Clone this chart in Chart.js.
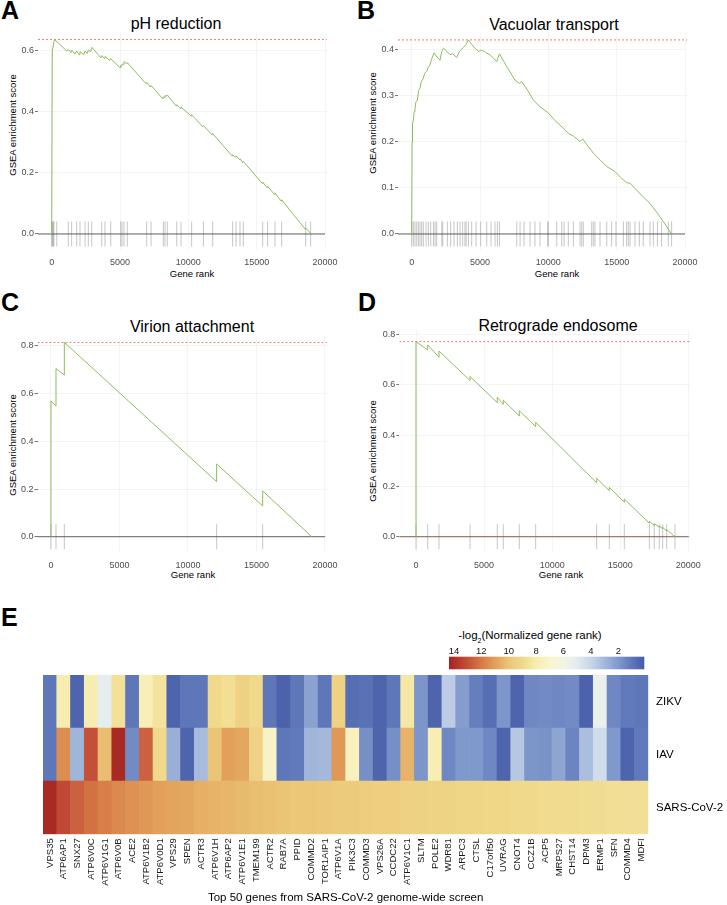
<!DOCTYPE html>
<html>
<head>
<meta charset="utf-8">
<script src="https://cdn.jsdelivr.net/npm/chart.js@4.4.1/dist/chart.umd.min.js"></script>
<style>
  body { margin: 0; background: #fff; }
  #fig { position: relative; width: 727px; height: 905px; overflow: hidden;
         font-family: 'Liberation Sans', Arial, Helvetica, sans-serif; color: #000; }
  canvas { position: absolute; }
  .lab { position: absolute; white-space: nowrap; line-height: 1; transform: translate(-50%, -50%); }
  .letter { position: absolute; font-weight: bold; font-size: 25px; line-height: 24px; }
  .ptitle { font-size: 16px; }
  .xtitle { font-size: 9.5px; }
  .ytitle { font-size: 9.5px; transform: translate(-50%, -50%) rotate(-90deg); }
  .cbtitle { font-size: 11.5px; }
</style>
</head>
<body>
<div id="fig">
  <div class="letter" style="left:1px;top:-2px">A</div>
  <div class="letter" style="left:357px;top:-2px">B</div>
  <div class="letter" style="left:1px;top:290px">C</div>
  <div class="letter" style="left:358px;top:290px">D</div>
  <div class="letter" style="left:1px;top:605px">E</div>

  <div class="lab ptitle" style="left:176px;top:24px">pH reduction</div>
  <div class="lab ptitle" style="left:554px;top:25px">Vacuolar transport</div>
  <div class="lab ptitle" style="left:192px;top:327px">Virion attachment</div>
  <div class="lab ptitle" style="left:558px;top:326px">Retrograde endosome</div>

  <div class="lab ytitle" style="left:13px;top:125px">GSEA enrichment score</div>
  <div class="lab ytitle" style="left:373px;top:123px">GSEA enrichment score</div>
  <div class="lab ytitle" style="left:13px;top:445px">GSEA enrichment score</div>
  <div class="lab ytitle" style="left:373px;top:451px">GSEA enrichment score</div>

  <div class="lab xtitle" style="left:192px;top:274px">Gene rank</div>
  <div class="lab xtitle" style="left:557px;top:274px">Gene rank</div>
  <div class="lab xtitle" style="left:193px;top:575px">Gene rank</div>
  <div class="lab xtitle" style="left:561px;top:575px">Gene rank</div>

  <div class="lab cbtitle" style="left:530px;top:637px">-log<sub style="font-size:7px">2</sub>(Normalized gene rank)</div>

  <canvas id="cA" width="360" height="290" style="left:0;top:0"></canvas>
  <canvas id="cB" width="367" height="290" style="left:360px;top:0"></canvas>
  <canvas id="cC" width="360" height="300" style="left:0;top:290px"></canvas>
  <canvas id="cD" width="367" height="300" style="left:360px;top:290px"></canvas>
  <canvas id="cBar" width="287" height="50" style="left:440px;top:625px"></canvas>
  <canvas id="cHeat" width="727" height="305" style="left:0;top:600px"></canvas>
</div>

<script>
// ---- GSEA running scores (gene rank / enrichment score) and hit positions ----
const xTicks = [0, 5000, 10000, 15000, 20000];

// A: pH reduction
const aRank = [0, 40, 200, 1100, 1215, 1400, 1460, 1700, 1830, 2000, 2070, 2350, 2440, 2600, 2680, 2850, 2930,
  3600, 3660, 3850, 3900, 4250, 4320, 5000, 5050, 5100, 5145, 5250, 5290, 5500, 5530, 6900, 6950, 7220, 7270,
  8130, 8170, 8250, 8290, 8420, 8460, 9100, 9150, 9420, 9460, 10200, 10240, 11050, 11100, 11740, 11780,
  13200, 13240, 13450, 13490, 13740, 13780, 13980, 14020, 15400, 15440, 15760, 15800, 16300, 16340,
  16790, 16830, 18550, 18590, 18950, 19000];
const aScore = [0, 0.600, 0.638, 0.600, 0.605, 0.595, 0.603, 0.590, 0.600, 0.588, 0.598, 0.588, 0.600, 0.592, 0.603, 0.597, 0.612,
  0.578, 0.585, 0.576, 0.582, 0.569, 0.575, 0.545, 0.552, 0.548, 0.557, 0.556, 0.565, 0.558, 0.562, 0.493, 0.497, 0.482, 0.487,
  0.443, 0.450, 0.447, 0.454, 0.452, 0.456, 0.420, 0.424, 0.412, 0.416, 0.387, 0.391, 0.352, 0.356, 0.325, 0.329,
  0.256, 0.260, 0.252, 0.256, 0.244, 0.247, 0.234, 0.238, 0.166, 0.170, 0.152, 0.156, 0.130, 0.134,
  0.108, 0.112, 0.016, 0.020, 0.002, 0];
const aHits = [0, 40, 80, 120, 160, 370, 1215, 1460, 1830, 2070, 2440, 2680, 2930, 3660, 3900, 4320, 5050, 5145,
  5290, 5530, 6950, 7270, 8170, 8290, 8460, 9150, 9460, 10240, 11100, 11780, 13240, 13490, 13780, 14020,
  15440, 15800, 16340, 16830, 18590, 18950];

// B: Vacuolar transport
const bRank = [0, 30, 60, 120, 180, 240, 300, 420, 500, 610, 700, 850, 950, 1100, 1200, 1340, 1450, 1630, 1800,
  2070, 2200, 2320, 2550, 2800, 3000, 3290, 3500, 3780, 3980, 4150, 4400, 4630, 4900, 5120, 5400, 5730, 6000,
  6220, 6420, 7000, 7560, 7690, 7880, 8050, 8500, 8900, 9400, 10000, 10500, 11100, 11460, 11830, 12320, 12510,
  12900, 13290, 13800, 14270, 14880, 15300, 15730, 15980, 16460, 16950, 17440, 17980, 18410, 19020];
const bScore = [0, 0.200, 0.240, 0.245, 0.265, 0.270, 0.285, 0.290, 0.310, 0.316, 0.330, 0.337, 0.348, 0.352, 0.360,
  0.366, 0.378, 0.392, 0.385, 0.376, 0.395, 0.402, 0.396, 0.388, 0.390, 0.382, 0.395, 0.404, 0.410, 0.420, 0.410,
  0.402, 0.395, 0.398, 0.393, 0.388, 0.380, 0.373, 0.390, 0.360, 0.333, 0.330, 0.326, 0.330, 0.310, 0.290, 0.275,
  0.262, 0.245, 0.229, 0.218, 0.212, 0.200, 0.206, 0.190, 0.175, 0.160, 0.146, 0.135, 0.122, 0.111, 0.110, 0.095,
  0.080, 0.066, 0.045, 0.027, 0];
const bHits = [0, 120, 240, 370, 490, 610, 730, 850, 1050, 1220, 1390, 1590, 1710, 1830, 2200, 2270, 2610, 2850,
  3100, 3340, 3540, 3730, 3900, 3980, 4150, 4390, 4710, 5050, 5490, 5810, 6100, 6270, 6420, 7690, 7930, 8220,
  8660, 9020, 9390, 9950, 10000, 10610, 10980, 11150, 11460, 11830, 12320, 12440, 12560, 13170, 13290, 13410,
  13780, 14270, 14630, 14950, 15490, 15730, 15850, 15980, 16340, 16660, 16950, 17440, 17680, 17980, 18290,
  18780, 19020];

// C: Virion attachment
const cRank = [0, 0, 365, 365, 973, 973, 12090, 12090, 15450, 15450, 19030];
const cScore = [0, 0.570, 0.548, 0.705, 0.678, 0.815, 0.231, 0.305, 0.129, 0.192, 0];
const cHits = [0, 365, 973, 12090, 15450];

// D: Retrograde endosome
const dRank = [0, 0, 860, 860, 1690, 1690, 3970, 3970, 5970, 5970, 6410, 6410, 7590, 7590, 8790, 8790, 13270, 13270,
  14200, 14200, 15300, 15300, 17140, 17140, 17500, 17500, 17870, 17870, 18120, 18120, 18410, 18410, 19020];
const dScore = [0, 0.771, 0.738, 0.758, 0.709, 0.734, 0.617, 0.633, 0.530, 0.551, 0.523, 0.540, 0.477, 0.498,
  0.435, 0.452, 0.213, 0.231, 0.182, 0.195, 0.136, 0.149, 0.053, 0.061, 0.045, 0.052, 0.037, 0.043, 0.031, 0.037,
  0.022, 0.028, 0];
const dHits = [0, 860, 1690, 3970, 5970, 6410, 7590, 8790, 13270, 14200, 15300, 17140, 17500, 17870, 18120,
  18410, 19020];

// ---- Heatmap: -log2(normalized gene rank) ----
const genes = ['VPS35', 'ATP6AP1', 'SNX27', 'ATP6V0C', 'ATP6V1G1', 'ATP6V0B', 'ACE2', 'ATP6V1B2', 'ATP6V0D1',
  'VPS29', 'SPEN', 'ACTR3', 'ATP6V1H', 'ATP6AP2', 'ATP6V1E1', 'TMEM199', 'ACTR2', 'RAB7A', 'PPID', 'COMMD2',
  'TOR1AIP1', 'ATP6V1A', 'PIK3C3', 'COMMD3', 'VPS26A', 'CCDC22', 'ATP6V1C1', 'SLTM', 'POLE2', 'WDR81', 'ARPC3',
  'CTSL', 'C17orf50', 'UVRAG', 'CNOT4', 'CCZ1B', 'ACP5', 'MRPS27', 'CHST14', 'DPM3', 'ERMP1', 'SFN', 'COMMD4', 'MDFI'];
const rowNames = ['SARS-CoV-2', 'IAV', 'ZIKV'];
const zikvRank = [1.0, 8.0, 0.4, 8.0, 5.2, 8.6, 1.0, 7.8, 8.5, 0.4, 1.0, 1.0, 9.0, 8.7, 9.4, 9.0, 1.0, 0.3, 1.0, 2.3,
  1.0, 9.4, 0.7, 0.8, 0.4, 1.0, 8.3, 1.9, 0.4, 3.7, 2.1, 1.2, 0.7, 1.9, 0.4, 1.5, 1.6, 1.5, 1.6, 0.3, 5.5, 1.5, 1.1, 1.0];
const iavRank = [1.0, 11.5, 2.9, 13.0, 10.2, 14.2, 1.6, 12.6, 9.0, 2.7, 0.4, 3.1, 10.0, 11.0, 10.8, 9.4, 7.2, 1.0, 1.1,
  2.9, 3.0, 11.2, 7.5, 1.7, 0.4, 1.7, 10.5, 1.9, 7.9, 1.5, 2.0, 2.0, 1.5, 0.4, 3.5, 1.9, 1.8, 2.4, 1.4, 3.2, 4.3, 2.0, 0.4, 1.1];
const sarsRank = [14.2, 13.2, 12.6, 12.2, 11.9, 11.6, 11.4, 11.2, 11.0, 10.9, 10.8, 10.6, 10.5, 10.4, 10.3, 10.2, 10.1,
  10.0, 9.9, 9.9, 9.8, 9.7, 9.7, 9.6, 9.5, 9.5, 9.4, 9.4, 9.3, 9.3, 9.2, 9.2, 9.1, 9.1, 9.0, 9.0, 8.9, 8.9, 8.9, 8.8,
  8.8, 8.7, 8.7, 8.7];
const barTicks = [14, 12, 10, 8, 6, 4, 2];

// colour ramp (blue -> white -> yellow -> red)
const stopVals = [0, 1, 2, 3, 4, 5, 6, 7, 8, 9, 10, 11, 12, 13, 14.4];
const stopCols = ['#4459a7', '#5e77b9', '#8099cc', '#a4b8db', '#c7d5e8', '#e3ebf0', '#f2f4e4', '#f8f5cc',
  '#f7edb0', '#f0d98a', '#ebc576', '#e2a05a', '#d67a47', '#c4503a', '#a5221f'];

function hexRgb(h) {
  return [parseInt(h.slice(1, 3), 16), parseInt(h.slice(3, 5), 16), parseInt(h.slice(5, 7), 16)];
}

function rankColor(v) {
  if (v <= stopVals[0]) return stopCols[0];
  for (let i = 1; i < stopVals.length; i++) {
    if (v <= stopVals[i]) {
      const t = (v - stopVals[i - 1]) / (stopVals[i] - stopVals[i - 1]);
      const a = hexRgb(stopCols[i - 1]), b = hexRgb(stopCols[i]);
      const c = a.map((x, k) => Math.round(x + (b[k] - x) * t));
      return `rgb(${c[0]},${c[1]},${c[2]})`;
    }
  }
  return stopCols[stopCols.length - 1];
}

Chart.defaults.font.family = "'Liberation Sans', Arial, Helvetica, sans-serif";

const GREEN = '#8cbd5c';
const RED = '#e6706a';

const panels = [
  { id: 'cA', rank: aRank, score: aScore, hits: aHits, peak: 0.638, yTicks: [0, 0.2, 0.4, 0.6],
    w: 360, h: 290, area: { left: 38, right: 327, top: 33, bottom: 249.7 }, x: [-1003, 20146], y: [-0.0515, 0.659], tickPad: 7.9 },
  { id: 'cB', rank: bRank, score: bScore, hits: bHits, peak: 0.42, yTicks: [0, 0.1, 0.2, 0.3, 0.4],
    w: 367, h: 290, area: { left: 38, right: 327, top: 33, bottom: 249.7 }, x: [-1003, 20146], y: [-0.034, 0.435], tickPad: 7.9 },
  { id: 'cC', rank: cRank, score: cScore, hits: cHits, peak: 0.815, yTicks: [0, 0.2, 0.4, 0.6, 0.8],
    w: 360, h: 300, area: { left: 37.5, right: 327, top: 45, bottom: 261.3 }, x: [-985, 20146], y: [-0.0612, 0.846], tickPad: 9.3 },
  { id: 'cD', rank: dRank, score: dScore, hits: dHits, peak: 0.771, yTicks: [0, 0.2, 0.4, 0.6, 0.8],
    w: 367, h: 300, area: { left: 39.3, right: 330, top: 40, bottom: 261.3 }, x: [-1227, 20125], y: [-0.0577, 0.817], tickPad: 9.3, zeroDash: true }
];

function drawGsea(p) {
  const [xMin, xMax] = p.x;
  const datasets = [
    { type: 'line', data: p.rank.map((r, i) => ({ x: r, y: p.score[i] })), borderColor: GREEN, borderWidth: 1,
      pointRadius: 0, tension: 0, order: 1 },
    { type: 'line', data: [{ x: xMin, y: p.peak }, { x: xMax, y: p.peak }], borderColor: RED, borderWidth: 0.9,
      borderDash: [2, 2], pointRadius: 0, order: 2 },
    { type: 'line', data: [{ x: xMin, y: 0 }, { x: 20000, y: 0 }], borderColor: '#3c3c3c', borderWidth: 0.8,
      pointRadius: 0, order: 4 },
    { data: p.hits.map(r => ({ x: r, y: 0 })), showLine: false, pointStyle: 'line', pointRotation: 90,
      pointRadius: 12.5, pointBorderColor: '#a0a0a0', pointBorderWidth: 0.6, order: 5 }
  ];
  if (p.zeroDash) {
    datasets.push({ type: 'line', data: [{ x: xMin, y: 0 }, { x: xMax, y: 0 }], borderColor: RED, borderWidth: 0.9,
      borderDash: [2, 2], pointRadius: 0, order: 3 });
  }
  new Chart(document.getElementById(p.id), {
    type: 'scatter',
    data: { datasets },
    options: {
      responsive: false,
      animation: false,
      events: [],
      layout: { padding: { left: 0, right: p.w - p.area.right, top: p.area.top, bottom: 0 } },
      plugins: { legend: { display: false }, tooltip: { enabled: false } },
      scales: {
        x: {
          type: 'linear', min: xMin, max: xMax,
          afterBuildTicks: s => { s.ticks = xTicks.map(v => ({ value: v })); },
          afterFit: s => { s.height = p.h - p.area.bottom; s.paddingLeft = 0; s.paddingRight = 0; },
          grid: { color: '#ececec', lineWidth: 0.6, drawTicks: false },
          border: { display: false },
          ticks: { padding: p.tickPad, color: '#4d4d4d', font: { size: 9 }, maxRotation: 0, autoSkip: false,
            callback: v => String(v) }
        },
        y: {
          type: 'linear', min: p.y[0], max: p.y[1],
          afterBuildTicks: s => { s.ticks = p.yTicks.map(v => ({ value: v })); },
          afterFit: s => { s.width = p.area.left; s.paddingTop = 0; s.paddingBottom = 0; },
          grid: { color: '#ececec', lineWidth: 0.6, drawTicks: true, tickLength: 3, tickColor: '#555', tickWidth: 0.8 },
          border: { display: false },
          ticks: { padding: 1, color: '#4d4d4d', font: { size: 9 }, callback: v => v.toFixed(1) }
        }
      }
    }
  });
}

panels.forEach(drawGsea);

// ---- colour bar ----
const barFill = {
  id: 'barFill',
  beforeDatasetsDraw(chart) {
    const { ctx, chartArea: a, scales: { x } } = chart;
    const g = ctx.createLinearGradient(x.getPixelForValue(0), 0, x.getPixelForValue(14.4), 0);
    stopVals.forEach((v, i) => g.addColorStop(v / 14.4, stopCols[i]));
    ctx.save();
    ctx.fillStyle = g;
    ctx.fillRect(a.left, a.top, a.right - a.left, a.bottom - a.top);
    ctx.restore();
  }
};

new Chart(document.getElementById('cBar'), {
  type: 'scatter',
  data: { datasets: [] },
  options: {
    responsive: false,
    animation: false,
    events: [],
    layout: { padding: { left: 9, right: 82.7, top: 0, bottom: 5.7 } },
    plugins: { legend: { display: false }, tooltip: { enabled: false } },
    scales: {
      x: {
        type: 'linear', position: 'top', reverse: true, min: 0.1, max: 14.36,
        afterBuildTicks: s => { s.ticks = barTicks.map(v => ({ value: v })); },
        afterFit: s => { s.height = 31.7; s.paddingLeft = 0; s.paddingRight = 0; },
        grid: { display: false, drawTicks: false },
        border: { display: false },
        ticks: { padding: 0, color: '#111', font: { size: 9.5 }, maxRotation: 0, autoSkip: false }
      },
      y: { display: false, min: 0, max: 1 }
    }
  },
  plugins: [barFill]
});

// ---- heatmap (stacked unit bars, one row per screen) ----
new Chart(document.getElementById('cHeat'), {
  type: 'bar',
  data: {
    labels: genes,
    datasets: [
      { label: rowNames[0], data: genes.map(() => 1), backgroundColor: sarsRank.map(rankColor) },
      { label: rowNames[1], data: genes.map(() => 1), backgroundColor: iavRank.map(rankColor) },
      { label: rowNames[2], data: genes.map(() => 1), backgroundColor: zikvRank.map(rankColor) }
    ]
  },
  options: {
    responsive: false,
    animation: false,
    events: [],
    layout: { padding: { left: 43, top: 75, right: 0, bottom: 0 } },
    plugins: { legend: { display: false }, tooltip: { enabled: false } },
    datasets: { bar: { barPercentage: 1, categoryPercentage: 1, borderWidth: 0 } },
    scales: {
      x: {
        stacked: true,
        afterFit: s => { s.height = 70.7; s.paddingLeft = 0; s.paddingRight = 0; },
        grid: { display: false, drawTicks: false },
        border: { display: false },
        ticks: { autoSkip: false, minRotation: 90, maxRotation: 90, padding: 4, color: '#1a1a1a',
          font: { size: 9.5 } },
        title: { display: true, text: 'Top 50 genes from SARS-CoV-2 genome-wide screen', color: '#000',
          font: { size: 11.5 }, padding: 0 }
      },
      y: {
        stacked: true, position: 'right', min: 0, max: 3,
        afterBuildTicks: s => { s.ticks = [0.5, 1.5, 2.5].map(v => ({ value: v })); },
        afterFit: s => { s.width = 78.7; s.paddingTop = 0; s.paddingBottom = 0; },
        grid: { display: false, drawTicks: false },
        border: { display: false },
        ticks: { padding: 7.7, color: '#000', font: { size: 11.5 }, callback: v => rowNames[Math.floor(v)] }
      }
    }
  }
});
</script>
</body>
</html>
